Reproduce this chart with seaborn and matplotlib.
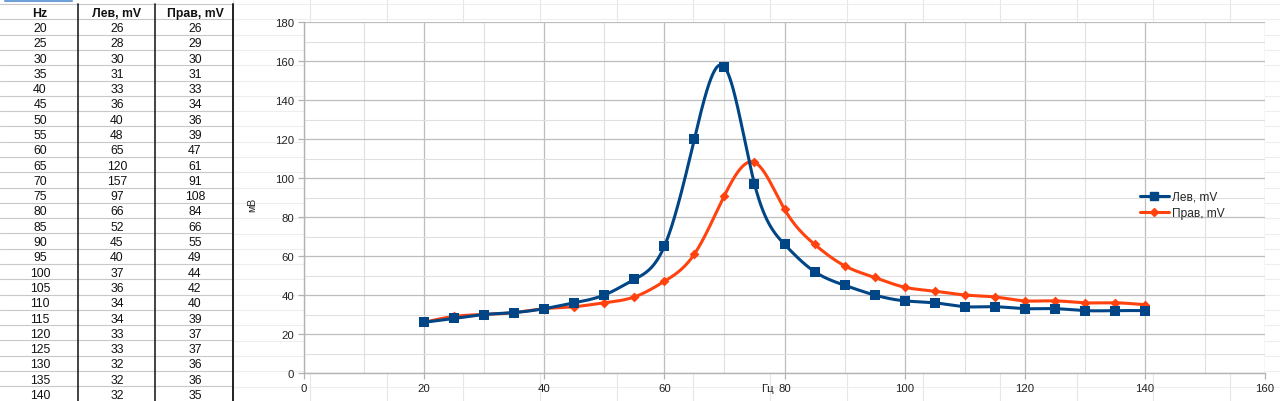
import numpy as np
import pandas as pd
import matplotlib
matplotlib.use("Agg")
import matplotlib.pyplot as plt
import seaborn as sns

hz = [20, 25, 30, 35, 40, 45, 50, 55, 60, 65, 70, 75, 80, 85, 90, 95, 100, 105, 110, 115, 120, 125, 130, 135, 140]
lev = [26, 28, 30, 31, 33, 36, 40, 48, 65, 120, 157, 97, 66, 52, 45, 40, 37, 36, 34, 34, 33, 33, 32, 32, 32]
prav = [26, 29, 30, 31, 33, 34, 36, 39, 47, 61, 91, 108, 84, 66, 55, 49, 44, 42, 40, 39, 37, 37, 36, 36, 35]
col_names = ["Hz", "Лев, mV", "Прав, mV"]
series_names = ["Лев, mV", "Прав, mV"]
colors = {"Лев, mV": "#004586", "Прав, mV": "#ff420e"}
x_ticks = [0, 20, 40, 60, 80, 100, 120, 140, 160]
y_ticks = [0, 20, 40, 60, 80, 100, 120, 140, 160, 180]

sns.set_theme(style="white")
plt.rcParams["font.family"] = ["Liberation Sans", "DejaVu Sans"]

def natural_spline(x, y, n=2000):
    x = np.asarray(x, float); y = np.asarray(y, float)
    m = len(x); h = np.diff(x)
    A = np.zeros((m, m)); b = np.zeros(m)
    A[0, 0] = 1; A[-1, -1] = 1
    for i in range(1, m - 1):
        A[i, i - 1] = h[i - 1]; A[i, i] = 2 * (h[i - 1] + h[i]); A[i, i + 1] = h[i]
        b[i] = 6 * ((y[i + 1] - y[i]) / h[i] - (y[i] - y[i - 1]) / h[i - 1])
    M = np.linalg.solve(A, b)
    xs = np.linspace(x[0], x[-1], n)
    idx = np.clip(np.searchsorted(x, xs) - 1, 0, m - 2)
    x0 = x[idx]; x1 = x[idx + 1]; hh = x1 - x0
    ys = (M[idx] * (x1 - xs) ** 3 / (6 * hh) + M[idx + 1] * (xs - x0) ** 3 / (6 * hh)
          + (y[idx] / hh - M[idx] * hh / 6) * (x1 - xs) + (y[idx + 1] / hh - M[idx + 1] * hh / 6) * (xs - x0))
    return xs, ys

W, H = 1280, 402
fig = plt.figure(figsize=(12.8, 4.02), dpi=100)
fig.patch.set_facecolor("white")

# pixel overlay for spreadsheet & table
bg = fig.add_axes([0, 0, 1, 1], zorder=0)
bg.set_xlim(0, W); bg.set_ylim(H, 0); bg.axis("off")
for xv in [233, 310, 387, 463, 540, 617, 693, 770, 847, 923, 1000, 1077, 1153, 1230]:
    bg.plot([xv, xv], [0, H], color="#e6e6e6", lw=0.8, zorder=0)
for yv in np.arange(5, H, 15.3):
    bg.plot([233, W], [yv, yv], color="#eeeeee", lw=0.8, zorder=0)

# table
row_h = 15.29
y0 = 28 - row_h
tab_top = y0 - row_h / 2
for i in range(len(hz) + 2):
    yb = tab_top + i * row_h
    bg.plot([0, 233], [yb, yb], color="#c8c8c8", lw=0.8, zorder=1)
for xv, lw in [(78, 1.2), (155, 1.2), (233, 1.4)]:
    bg.plot([xv, xv], [tab_top, H], color="#222222", lw=lw, zorder=2)
cx = [40, 117, 195]
for j, name in enumerate(col_names):
    bg.text(cx[j], y0 + 1, name, ha="center", va="center", fontsize=8.8, fontweight="bold", color="#111111", zorder=3)
cols = [hz, lev, prav]
for i in range(len(hz)):
    for j in range(3):
        bg.text(cx[j], y0 + (i + 1) * row_h + 1, str(cols[j][i]), ha="center", va="center",
                fontsize=8.8, color="#111111", zorder=3)
bg.plot([5, 72], [2, 2], color="#6fa0d8", lw=1.5, zorder=3)

# chart
ax = fig.add_axes([304 / W, (H - 374) / H, 961 / W, 351 / H], zorder=2)
ax.patch.set_facecolor("white")
ax.set_xlim(0, 160); ax.set_ylim(0, 180)
ax.set_xticks(x_ticks); ax.set_yticks(y_ticks)
ax.set_xticks(np.arange(10, 160, 20), minor=True)
ax.set_yticks(np.arange(10, 180, 20), minor=True)
ax.grid(True, which="major", color="#bdbdbd", lw=0.9)
ax.grid(True, which="minor", color="#e0e0e0", lw=0.8)
ax.set_axisbelow(True)

df = pd.DataFrame({"Hz": hz * 2, "mV": lev + prav,
                   "series": [series_names[0]] * len(hz) + [series_names[1]] * len(hz)})
for name, ys, mk, ms, z in [(series_names[1], prav, "D", 5, 3), (series_names[0], lev, "s", 7.5, 4)]:
    xs, yy = natural_spline(hz, ys)
    ax.plot(xs, yy, color=colors[name], lw=2.2, zorder=z, solid_capstyle="round")
    sub = df[df.series == name]
    sns.scatterplot(data=sub, x="Hz", y="mV", ax=ax, color=colors[name], marker=mk,
                    s=ms ** 2, edgecolor=colors[name], linewidth=0, zorder=z + 0.5, legend=False)

for s in ["top", "right"]:
    ax.spines[s].set_visible(False)
for s in ["left", "bottom"]:
    ax.spines[s].set_color("#b3b3b3"); ax.spines[s].set_linewidth(1.0)
ax.tick_params(axis="both", which="major", labelsize=8.2, colors="#b3b3b3", labelcolor="#222222",
               length=4, width=0.9, direction="out", bottom=True, left=True, pad=3)
ax.tick_params(axis="both", which="minor", length=0)
ax.set_xlabel(""); ax.set_ylabel("")
fig.text(252 / W, 1 - 205 / H, "мВ", rotation=90, ha="center", va="center", fontsize=7.5, color="#222222")
fig.text(767 / W, 1 - 389 / H, "Гц", ha="center", va="center", fontsize=8.2, color="#222222", zorder=5)

from matplotlib.lines import Line2D
handles = [Line2D([], [], color=colors[series_names[0]], marker="s", ms=6, lw=2.2),
           Line2D([], [], color=colors[series_names[1]], marker="D", ms=4, lw=2.2)]
ax.legend(handles, series_names, loc="center left", bbox_to_anchor=((1140 - 304) / 961, 1 - (206 - 23) / 351),
          frameon=False, fontsize=8.6, handlelength=2.4, handletextpad=0.3, labelspacing=0.35,
          borderaxespad=0, borderpad=0)

fig.savefig("out.png", dpi=100, facecolor="white")
